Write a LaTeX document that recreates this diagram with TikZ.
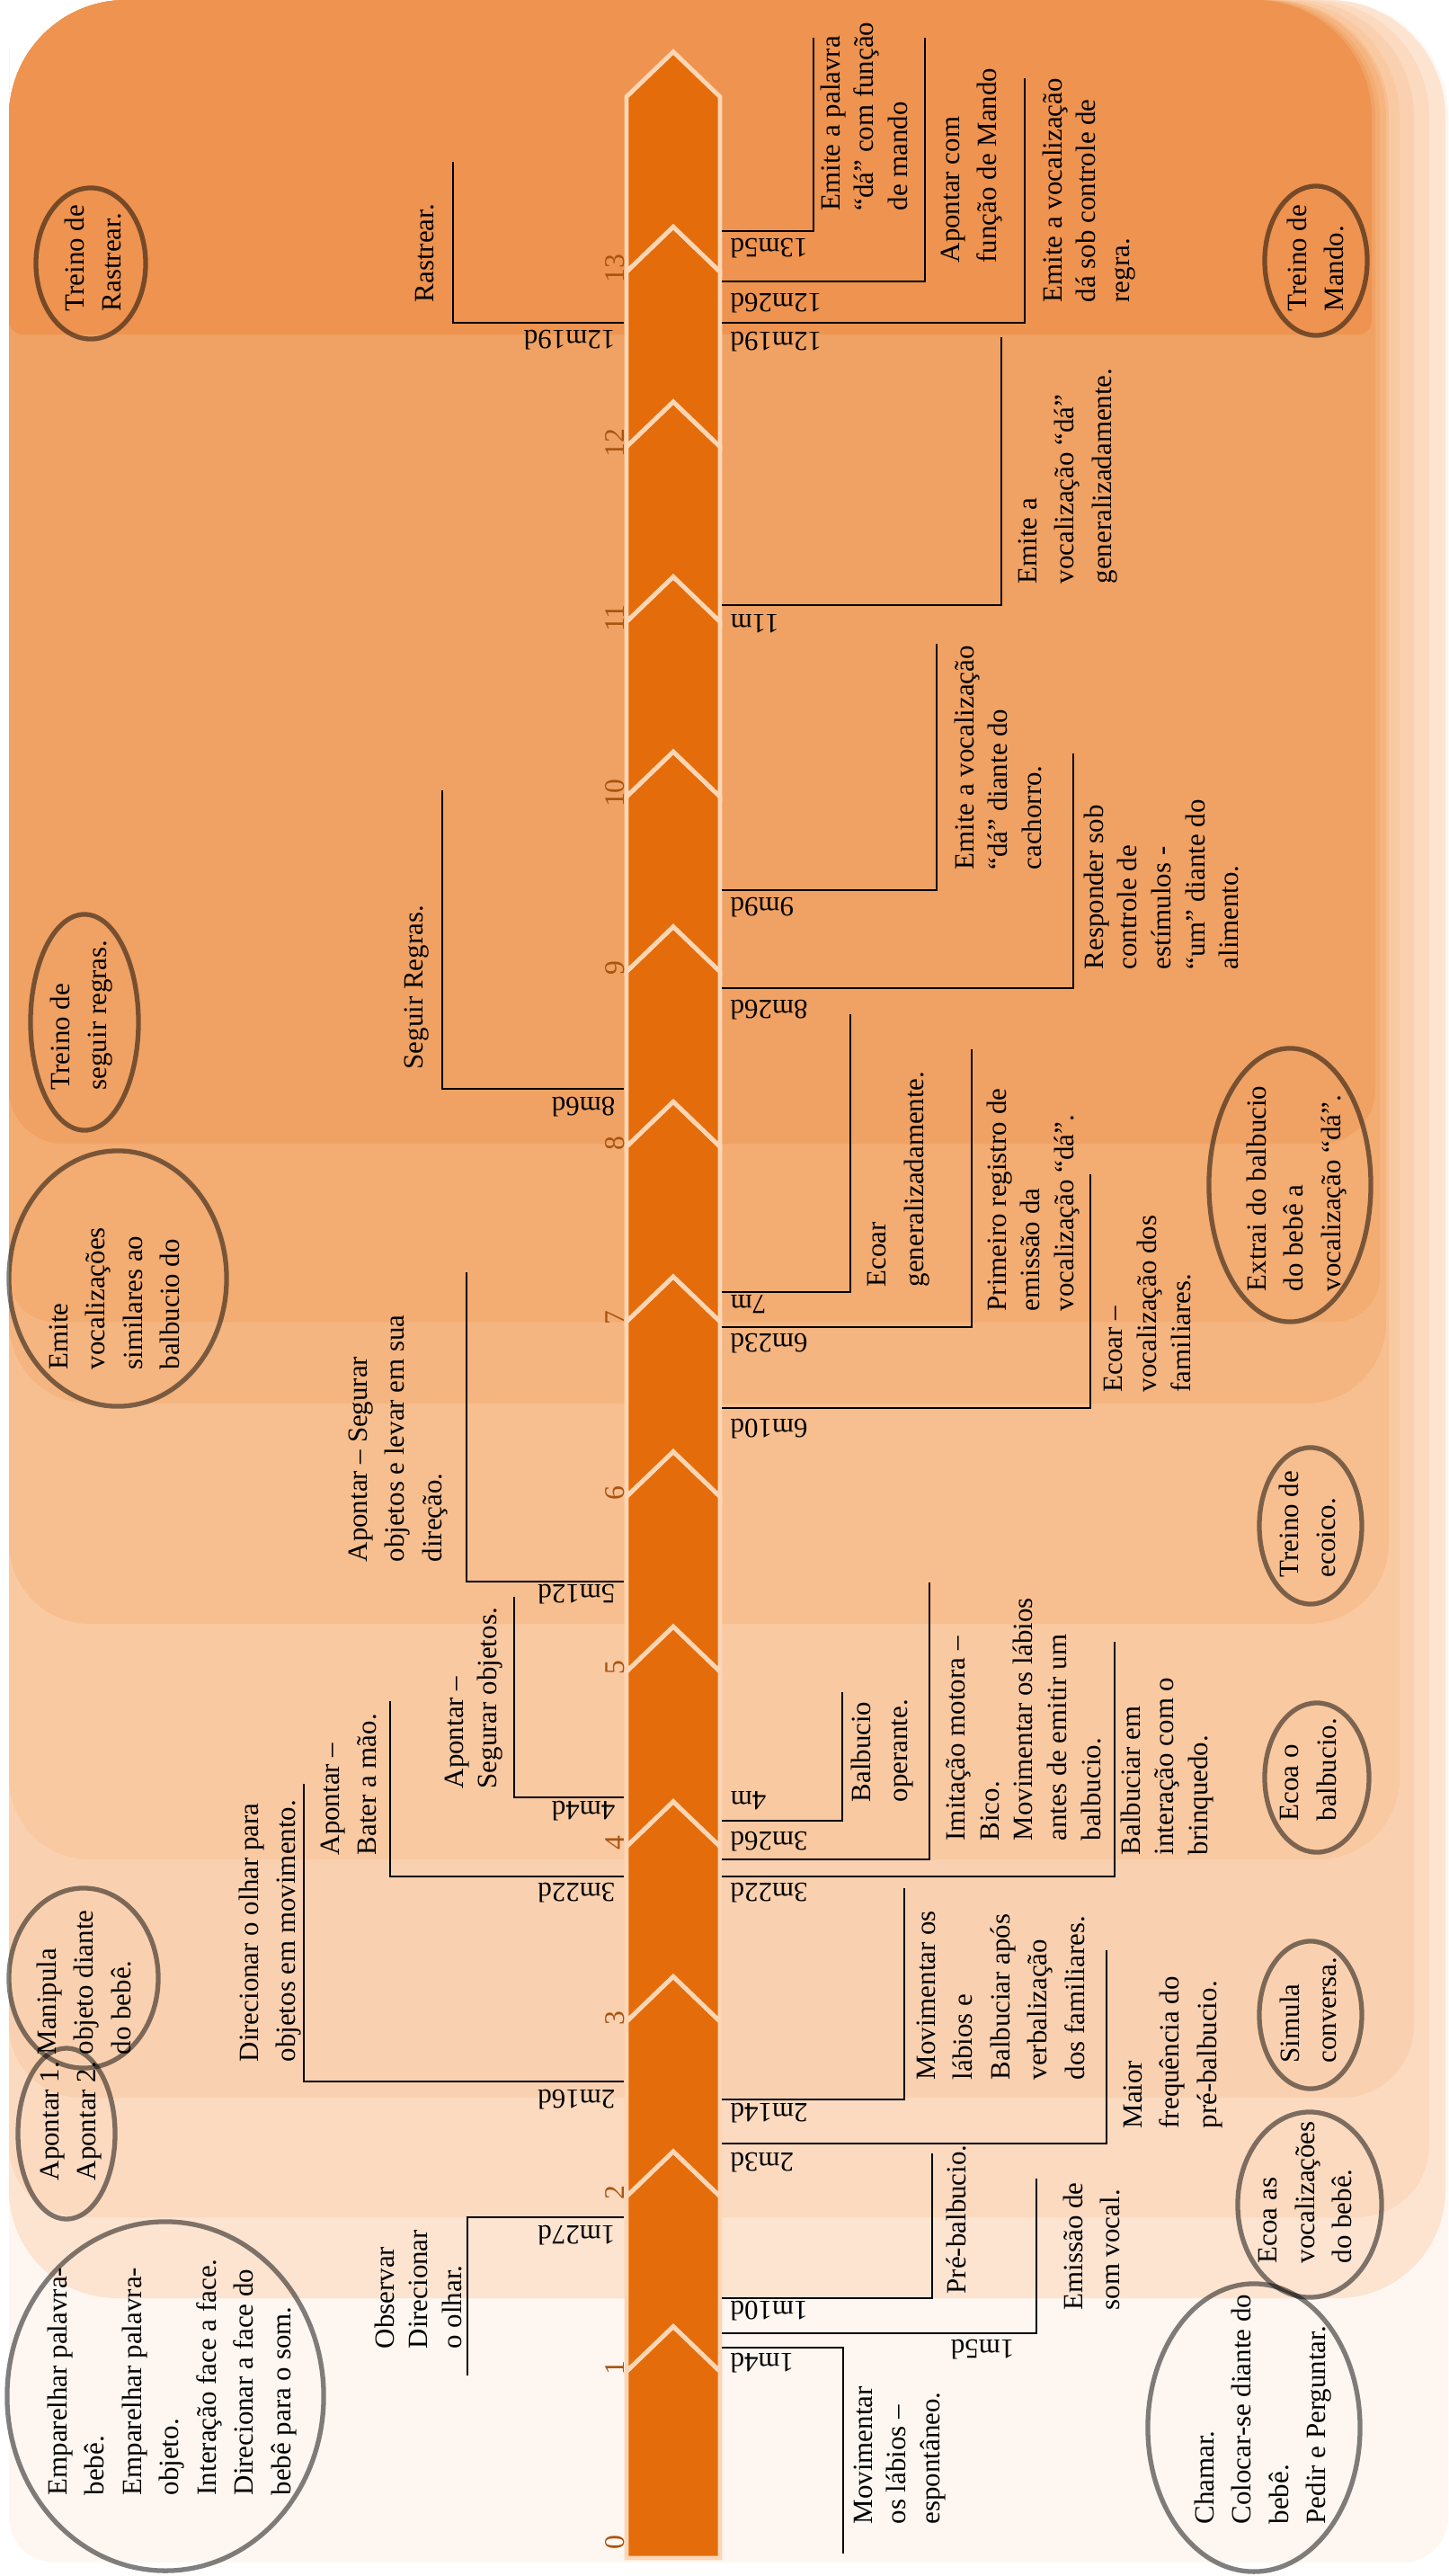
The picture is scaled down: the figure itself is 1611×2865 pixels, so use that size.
\documentclass[tikz,border=0pt]{standalone}
\usepackage{fontspec}
\setmainfont{Liberation Serif}
\usetikzlibrary{shapes.geometric}

\definecolor{bandfill}{HTML}{E46C0A}
\definecolor{bandline}{HTML}{FCD6B5}
\definecolor{tickcol}{HTML}{A9540F}
\definecolor{bgA}{HTML}{FEF7F1}
\definecolor{bgB}{HTML}{FCE4D1}
\definecolor{bgC}{HTML}{FBDAC0}
\definecolor{bgD}{HTML}{FAD1B0}
\definecolor{bgE}{HTML}{F9C9A2}
\definecolor{bgF}{HTML}{F7BF90}
\definecolor{bgG}{HTML}{F5B580}
\definecolor{bgH}{HTML}{F3AC72}
\definecolor{bgI}{HTML}{F0A264}
\definecolor{bgJ}{HTML}{EE9350}

\newcommand{\lbl}{\fontsize{8.8pt}{11.8pt}\selectfont}
\newcommand{\lbln}{\fontsize{8.8pt}{10.7pt}\selectfont}

\begin{document}
\begin{tikzpicture}
          [x=0.01cm,y=-0.01cm,
           txt/.style={rotate=90,anchor=north west,align=left,inner sep=0pt,font=\lbl},
           txtn/.style={txt,font=\lbln},
           date/.style={rotate=180,inner sep=0pt,font=\lbl},
           tick/.style={rotate=90,inner sep=0pt,text=tickcol,font=\fontsize{9pt}{10pt}\selectfont},
           oval/.style={ellipse,draw=black,draw opacity=0.5,line width=1.5pt,inner sep=0pt},
           conn/.style={draw=black,line width=0.6pt},
           seg/.style={fill=bandfill,draw=bandline,line width=1.4pt}]
        \useasboundingbox (0,0) rectangle (1611,2865);

        % background steps
        \foreach \yb/\xr/\col/\rb in {2850/1611/bgA/0.5cm, 2556/1608/bgB/1.2cm, 2466/1590/bgC/0.8cm,
            2333/1573/bgD/0.8cm, 2068/1557/bgE/0.9cm, 1806/1545/bgF/0.9cm, 1561/1542/bgG/0.9cm,
            1470/1535/bgH/0.5cm, 1272/1530/bgI/0.6cm, 372/1526/bgJ/0.15cm}
          \fill[\col,rounded corners=\rb] (10,\yb/2) -- (10,\yb) -- (\xr,\yb) -- (\xr,\yb/2)
            [rounded corners=1.3cm] -- (\xr,0) -- (10,0) -- cycle;

        % timeline
        \draw[seg] (697,2845) -- (801,2845) -- (801,2637.4) -- (749,2587.4) -- (697,2637.4) -- cycle;
        \foreach \k in {1,...,13}{
          \pgfmathsetmacro\ya{2832-194.6*\k}
          \pgfmathsetmacro\yc{2832-194.6*(\k+1)}
          \draw[seg] (697,\ya) -- (749,\ya-50) -- (801,\ya) -- (801,\yc) -- (749,\yc-50) -- (697,\yc) -- cycle;
        }
        \foreach \k in {0,...,13}
          \node[tick] (t\k) at (684,{2828-194.6*\k}) {\k};

        % brackets
        \foreach \yl/\xv/\ye [count=\i] in {2466/520/2642, 2315/338/1984, 2087/434/1892, 1999/572/1776,
            1759/519/1415, 1211/492/879, 359/504/180}{
          \coordinate (la\i) at (694,\yl);
          \coordinate (lb\i) at (\xv,\ye);
          \draw[conn] (la\i) -| (lb\i);
        }
        \foreach \yl/\xv/\ye [count=\i] in {2611/938/2840, 2595/1153/2423, 2556/1037/2395, 2384/1231/2169,
            2335/1006/2100, 2087/1240/1826, 2068/1034/1760, 2025/937/1882, 1566/1213/1306,
            1476/1081/1167, 1437/946/1128, 1099/1194/838, 990/1042/716, 673/1114/375,
            359/1140/87, 313/1029/42, 257/905/42}{
          \coordinate (ra\i) at (803,\yl);
          \coordinate (rb\i) at (\xv,\ye);
          \draw[conn] (ra\i) -| (rb\i);
        }

        % dates
        \node[date,anchor=west] (d1m27) at (685,2486) {1m27d};
        \node[date,anchor=west] (d2m16) at (685,2335) {2m16d};
        \node[date,anchor=west] (d3m22l) at (685,2105) {3m22d};
        \node[date,anchor=west] (d4m4) at (685,2014) {4m4d};
        \node[date,anchor=west] (d5m12) at (685,1773) {5m12d};
        \node[date,anchor=west] (d8m6) at (685,1231) {8m6d};
        \node[date,anchor=west] (d12m19l) at (685,378) {12m19d};
        \node[date,anchor=east] (d1m4) at (812,2628) {1m4d};
        \node[date,anchor=west] (d1m5) at (1129,2613) {1m5d};
        \node[date,anchor=east] (d1m10) at (812,2570) {1m10d};
        \node[date,anchor=east] (d2m3) at (812,2405) {2m3d};
        \node[date,anchor=east] (d2m14) at (812,2350) {2m14d};
        \node[date,anchor=east] (d3m22r) at (812,2105) {3m22d};
        \node[date,anchor=east] (d3m26) at (812,2048) {3m26d};
        \node[date,anchor=east] (d4m) at (812,2003) {4m};
        \node[date,anchor=east] (d6m10) at (812,1589) {6m10d};
        \node[date,anchor=east] (d6m23) at (812,1494) {6m23d};
        \node[date,anchor=east] (d7m) at (812,1451) {7m};
        \node[date,anchor=east] (d8m26) at (812,1123) {8m26d};
        \node[date,anchor=east] (d9m9) at (812,1009) {9m9d};
        \node[date,anchor=east] (d11m) at (812,694) {11m};
        \node[date,anchor=east] (d12m19r) at (812,380) {12m19d};
        \node[date,anchor=east] (d12m26) at (812,337) {12m26d};
        \node[date,anchor=east] (d13m5) at (812,276) {13m5d};

        % texts, left side
        \node[txt] (nEmp) at (52,2776) {Emparelhar palavra-\\bebê.\\Emparelhar palavra-\\objeto.\\Interação face a face.\\Direcionar a face do\\bebê para o som.};
        \node[txtn] (nObs) at (416,2613) {Observar\\Direcionar\\o olhar.};
        \node[txt] (nApo) at (44,2426) {Apontar 1.\\Apontar 2.};
        \node[txt] (nMan) at (40,2286) {Manipula\\objeto diante\\do bebê.};
        \node[txt] (nDir) at (265,2294) {Direcionar o olhar para\\objetos em movimento.};
        \node[txt] (nBat) at (356,2064) {Apontar –\\Bater a mão.};
        \node[txtn] (nSeg) at (494,1990) {Apontar –\\Segurar objetos.};
        \node[txt] (nLev) at (387,1738) {Apontar – Segurar\\objetos e levar em sua\\direção.};
        \node[txt] (nEmv) at (54,1524) {Emite\\vocalizações\\similares ao\\balbucio do};
        \node[txt] (nTsr) at (55,1213) {Treino de\\seguir regras.};
        \node[txt] (nSgr) at (449,1190) {Seguir Regras.};
        \node[txt] (nTra) at (71,347) {Treino de\\Rastrear.};
        \node[txt] (nRas) at (462,337) {Rastrear.};

        % texts, right side
        \node[txtn] (nEsp) at (949,2808) {Movimentar\\os lábios –\\espontâneo.};
        \node[txt] (nPre) at (1052,2552) {Pré-balbucio.};
        \node[txt] (nSom) at (1182,2570) {Emissão de\\som vocal.};
        \node[txt] (nCha) at (1328,2808) {Chamar.\\Colocar-se diante do\\bebê.\\Pedir e Perguntar.};
        \node[txt] (nEcv) at (1400,2518) {Ecoa as\\vocalizações\\do bebê.};
        \node[txt] (nMai) at (1249,2368) {Maior\\frequência do\\pré-balbucio.};
        \node[txt] (nMov) at (1019,2314) {Movimentar os\\lábios e\\Balbuciar após\\verbalização\\dos familiares.};
        \node[txt] (nSim) at (1423,2295) {Simula\\conversa.};
        \node[txtn] (nBri) at (1246,2064) {Balbuciar em\\interação com o\\brinquedo.};
        \node[txtn] (nImi) at (1052,2048) {Imitação motora –\\Bico.\\Movimentar os lábios\\antes de emitir um\\balbucio.};
        \node[txt] (nOpe) at (946,2005) {Balbucio\\operante.};
        \node[txt] (nEco) at (1424,2026) {Ecoa o\\balbucio.};
        \node[txt] (nTre) at (1422,1755) {Treino de\\ecoico.};
        \node[txtn] (nFam) at (1228,1549) {Ecoar –\\vocalização dos\\familiares.};
        \node[txtn] (nPri) at (1097,1459) {Primeiro registro de\\emissão da\\vocalização “dá”.};
        \node[txt] (nGen) at (965,1432) {Ecoar\\generalizadamente.};
        \node[txt] (nExt) at (1386,1437) {Extrai do balbucio\\do bebê a\\vocalização “dá”.};
        \node[txtn] (nRes) at (1205,1079) {Responder sob\\controle de\\estímulos -\\“um” diante do\\alimento.};
        \node[txtn] (nCac) at (1061,968) {Emite a vocalização\\“dá” diante do\\cachorro.};
        \node[txt] (nVoc) at (1132,650) {Emite a\\vocalização “dá”\\generalizadamente.};
        \node[txtn] (nReg) at (1159,337) {Emite a vocalização\\dá sob controle de\\regra.};
        \node[txt] (nApm) at (1046,293) {Apontar com\\função de Mando};
        \node[txtn] (nPal) at (912,235) {Emite a palavra\\“dá” com função\\de mando};
        \node[txt] (nMdo) at (1431,347) {Treino de\\Mando.};

        % ovals
        \node[oval,minimum width=3.52cm,minimum height=3.88cm] (eEmp) at (184,2665) {};
        \node[oval,minimum width=1.08cm,minimum height=1.90cm] (eApo) at (74,2373) {};
        \node[oval,minimum width=1.66cm,minimum height=2.00cm] (eMan) at (93,2200) {};
        \node[oval,minimum width=2.42cm,minimum height=2.84cm] (eEmv) at (131,1422) {};
        \node[oval,minimum width=1.20cm,minimum height=2.40cm] (eTsr) at (94,1137) {};
        \node[oval,minimum width=1.22cm,minimum height=1.68cm] (eTra) at (101,293) {};
        \node[oval,minimum width=2.36cm,minimum height=3.20cm] (eCha) at (1395,2700) {};
        \node[oval,minimum width=1.60cm,minimum height=2.06cm] (eEcv) at (1457,2452) {};
        \node[oval,minimum width=1.14cm,minimum height=1.64cm] (eSim) at (1458,2241) {};
        \node[oval,minimum width=1.16cm,minimum height=1.66cm] (eEco) at (1465,1977) {};
        \node[oval,minimum width=1.14cm,minimum height=1.74cm] (eTre) at (1458,1697) {};
        \node[oval,minimum width=1.80cm,minimum height=3.04cm] (eExt) at (1435,1318) {};
        \node[oval,minimum width=1.14cm,minimum height=1.66cm] (eMdo) at (1464,290) {};
\end{tikzpicture}
\end{document}
